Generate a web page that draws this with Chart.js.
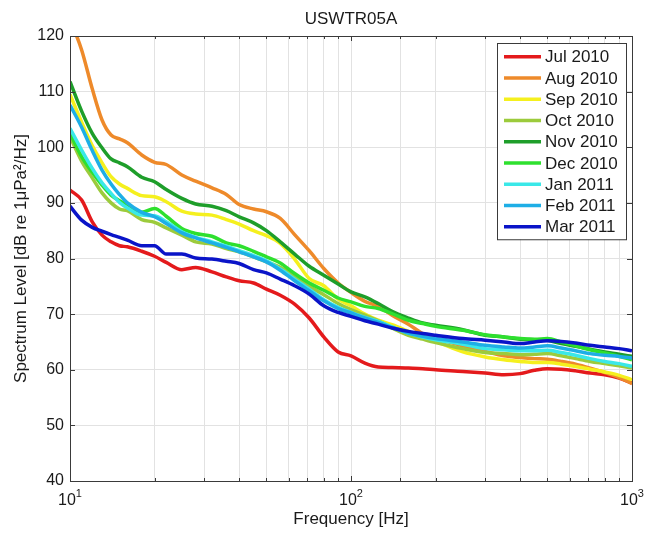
<!DOCTYPE html>
<html>
<head>
<meta charset="utf-8">
<title>USWTR05A</title>
<script src="https://cdn.jsdelivr.net/npm/chart.js@4.4.1/dist/chart.umd.min.js"></script>
<style>
    body { margin: 0; background: #fff; }
    canvas { display: block; }
</style>
</head>
<body>
<canvas id="spectrumChart" width="647" height="534"></canvas>
<script>
// Частоты (Гц), общие для всех месяцев
const freqs = [10, 11, 12, 13, 14, 15, 16, 18, 20, 22, 25, 28, 32, 36, 40, 45, 50, 56, 63, 71,
    80, 90, 100, 112, 125, 140, 160, 180, 200, 250, 300, 350, 400, 450, 500, 560, 630, 710, 800, 900, 1000];

const jul2010 = [92.3, 90.5, 86.6, 84.2, 83.0, 82.3, 82.1, 81.3, 80.4, 79.3, 78.0, 78.4, 77.6, 76.7, 76.0, 75.6, 74.5, 73.4, 71.8, 69.3,
    65.9, 63.2, 62.5, 61.2, 60.5, 60.4, 60.3, 60.2, 60.0, 59.7, 59.4, 59.1, 59.3, 59.9, 60.2, 60.1, 59.8, 59.4, 59.1, 58.5, 57.6];
const aug2010 = [123, 117.5, 110.5, 104.9, 102.2, 101.5, 100.8, 98.6, 97.3, 96.9, 95.0, 93.9, 92.7, 91.5, 89.7, 88.9, 88.4, 87.2, 84.3, 81.4,
    78.2, 75.6, 73.9, 72.3, 71.4, 69.8, 68.2, 66.5, 65.7, 64.3, 63.3, 62.5, 62.2, 62.0, 61.9, 61.5, 61.0, 60.3, 59.5, 58.6, 57.5];
const sep2010 = [109.5, 104.5, 100.3, 97.2, 94.7, 93.4, 92.6, 91.3, 91.1, 90.2, 88.5, 88.0, 87.8, 87.0, 86.2, 85.0, 84.1, 82.7, 79.9, 76.4,
    75.1, 72.7, 71.5, 70.0, 68.9, 68.1, 66.9, 65.8, 65.1, 63.2, 62.3, 61.8, 61.5, 61.3, 61.3, 61.0, 60.6, 60.1, 59.6, 59.0, 58.2];
const oct2010 = [101.9, 97.5, 94.5, 91.8, 90.0, 88.9, 88.6, 87.0, 86.5, 85.5, 84.2, 83.0, 82.6, 81.8, 81.2, 80.3, 79.4, 78.4, 76.8, 75.0,
    73.5, 71.9, 70.8, 69.8, 68.8, 67.5, 66.2, 65.5, 64.9, 63.8, 63.1, 62.9, 62.7, 62.8, 62.9, 62.5, 62.0, 61.5, 61.1, 60.7, 60.3];
const nov2010 = [111.8, 106.5, 102.5, 99.9, 97.9, 97.2, 96.5, 94.6, 93.8, 92.4, 90.8, 89.8, 89.4, 88.6, 87.5, 86.4, 85.0, 83.0, 80.8, 78.6,
    77.0, 75.4, 74.0, 73.1, 71.9, 70.5, 69.3, 68.4, 68.0, 67.2, 66.2, 65.9, 65.5, 65.4, 65.3, 64.7, 64.2, 63.7, 63.2, 62.8, 62.4];
const dec2010 = [102.5, 98.3, 95.5, 93.2, 91.4, 90.4, 89.7, 88.3, 89.0, 87.6, 85.4, 84.5, 84.0, 82.8, 82.3, 81.3, 80.3, 79.2, 77.3, 75.6,
    74.3, 72.9, 72.2, 71.4, 71.0, 70.1, 68.9, 68.3, 67.8, 67.1, 66.3, 65.9, 65.6, 65.5, 65.6, 65.0, 64.3, 63.6, 63.0, 62.4, 61.8];
const jan2011 = [103.4, 99.5, 96.2, 93.6, 91.7, 90.1, 89.1, 87.8, 87.7, 86.6, 84.8, 83.8, 83.0, 82.2, 81.4, 80.5, 79.6, 78.1, 76.3, 74.5,
    72.6, 71.2, 70.3, 69.4, 68.7, 67.7, 66.6, 65.9, 65.4, 64.6, 63.8, 63.6, 63.4, 63.4, 63.5, 63.1, 62.6, 62.0, 61.5, 61.1, 60.6];
const feb2011 = [107.6, 103.6, 99.4, 95.9, 93.4, 91.5, 90.0, 88.3, 87.5, 86.3, 84.6, 83.7, 82.8, 82.0, 81.2, 80.3, 79.4, 77.9, 76.0, 74.2,
    72.4, 71.0, 70.2, 69.3, 68.5, 67.6, 66.6, 66.0, 65.6, 65.0, 64.4, 64.1, 63.9, 64.1, 64.3, 63.9, 63.4, 62.9, 62.6, 62.4, 62.1];
const mar2011 = [89.4, 86.9, 85.6, 84.9, 84.3, 83.8, 83.3, 82.3, 82.3, 80.8, 80.8, 80.1, 79.9, 79.5, 79.1, 78.0, 77.4, 76.3, 75.1, 73.6,
    71.5, 70.3, 69.6, 68.8, 68.2, 67.5, 66.9, 66.5, 66.2, 65.6, 65.3, 65.0, 64.7, 65.0, 65.2, 65.1, 64.8, 64.4, 64.1, 63.8, 63.4];

const seriesLabels = ['Jul 2010', 'Aug 2010', 'Sep 2010', 'Oct 2010', 'Nov 2010', 'Dec 2010', 'Jan 2011', 'Feb 2011', 'Mar 2011'];
const seriesValues = [jul2010, aug2010, sep2010, oct2010, nov2010, dec2010, jan2011, feb2011, mar2011];
const seriesColors = ['#e41a1c', '#ee8a2a', '#f5f01e', '#9ccb3c', '#1e9e2a', '#2ee02e', '#3ae8e8', '#1eaee6', '#0a14c8'];

// Подписи осей
const decadeTicks = [10, 100, 1000];
const yMin = 40, yMax = 120, yStep = 10;

const FONT = "'Liberation Sans', Arial, Helvetica, sans-serif";
const TEXT_COLOR = '#1a1a1a';

// Рамка осей и засечки внутрь, как в MATLAB
const axesBox = {
    id: 'axesBox',
    afterDraw(chart) {
        const { ctx, chartArea: a } = chart;
        const xs = chart.scales.x, ys = chart.scales.y;
        ctx.save();
        ctx.strokeStyle = '#3a3a3a';
        ctx.lineWidth = 1;
        ctx.beginPath();
        xs.ticks.forEach(t => {
            const px = Math.round(xs.getPixelForValue(t.value)) + 0.5;
            const len = decadeTicks.includes(t.value) ? 5 : 3;
            ctx.moveTo(px, a.bottom); ctx.lineTo(px, a.bottom - len);
            ctx.moveTo(px, a.top); ctx.lineTo(px, a.top + len);
        });
        ys.ticks.forEach(t => {
            const py = Math.round(ys.getPixelForValue(t.value)) + 0.5;
            ctx.moveTo(a.left, py); ctx.lineTo(a.left + 5, py);
            ctx.moveTo(a.right, py); ctx.lineTo(a.right - 5, py);
        });
        ctx.stroke();
        ctx.strokeRect(Math.round(a.left) + 0.5, Math.round(a.top) + 0.5,
            Math.round(a.right - a.left), Math.round(a.bottom - a.top));

        // Подписи 10^n под осью X
        ctx.fillStyle = TEXT_COLOR;
        ctx.textBaseline = 'alphabetic';
        ctx.textAlign = 'left';
        decadeTicks.forEach(v => {
            const px = xs.getPixelForValue(v);
            const exp = String(Math.round(Math.log10(v)));
            ctx.font = '16px ' + FONT;
            const bw = ctx.measureText('10').width;
            ctx.font = '11px ' + FONT;
            const sw = ctx.measureText(exp).width;
            const left = px - (bw + sw) / 2;
            ctx.font = '16px ' + FONT;
            ctx.fillText('10', left, a.bottom + 24);
            ctx.font = '11px ' + FONT;
            ctx.fillText(exp, left + bw, a.bottom + 16);
        });
        ctx.restore();
    }
};

// Легенда в правом верхнем углу области графика
const boxLegend = {
    id: 'boxLegend',
    afterDraw(chart) {
        const { ctx, chartArea: a } = chart;
        const w = 129, rowH = 21.25;
        const h = rowH * seriesLabels.length + 5;
        const x0 = Math.round(a.right - 6 - w), y0 = Math.round(a.top + 7);
        ctx.save();
        ctx.fillStyle = '#ffffff';
        ctx.fillRect(x0, y0, w, h);
        ctx.strokeStyle = '#3a3a3a';
        ctx.lineWidth = 1;
        ctx.strokeRect(x0 + 0.5, y0 + 0.5, w, h);
        ctx.font = '17px ' + FONT;
        ctx.textBaseline = 'middle';
        ctx.textAlign = 'left';
        seriesLabels.forEach((label, i) => {
            const cy = y0 + 3 + rowH * (i + 0.5);
            ctx.strokeStyle = seriesColors[i];
            ctx.lineWidth = 3.5;
            ctx.beginPath();
            ctx.moveTo(x0 + 7, cy);
            ctx.lineTo(x0 + 44, cy);
            ctx.stroke();
            ctx.fillStyle = TEXT_COLOR;
            ctx.fillText(label, x0 + 48, cy + 1);
        });
        ctx.restore();
    }
};

const datasets = seriesLabels.map((label, i) => ({
    label: label,
    data: freqs.map((f, j) => ({ x: f, y: seriesValues[i][j] })),
    borderColor: seriesColors[i],
    backgroundColor: seriesColors[i],
    borderWidth: 3.5,
    pointRadius: 0,
    fill: false,
    cubicInterpolationMode: 'monotone',
    clip: 0,
    order: seriesLabels.length - i
}));

const ctx = document.getElementById('spectrumChart').getContext('2d');
new Chart(ctx, {
    type: 'line',
    data: { datasets },
    plugins: [axesBox, boxLegend],
    options: {
        responsive: false,
        animation: false,
        devicePixelRatio: 1,
        layout: { padding: { left: 0, right: 15, top: 0, bottom: 0 } },
        plugins: {
            legend: { display: false },
            tooltip: { enabled: false },
            title: {
                display: true,
                text: 'USWTR05A',
                fullSize: false,
                color: TEXT_COLOR,
                font: { family: FONT, size: 17, weight: 'normal' },
                padding: { top: 9, bottom: 6.6 }
            }
        },
        scales: {
            x: {
                type: 'logarithmic',
                min: 10,
                max: 1000,
                grid: { color: '#e2e2e2', lineWidth: 1, drawTicks: false },
                border: { display: false },
                ticks: { display: false, autoSkip: false },
                title: {
                    display: true,
                    text: 'Frequency [Hz]',
                    color: TEXT_COLOR,
                    font: { family: FONT, size: 17 },
                    padding: { top: 0, bottom: 4 }
                },
                afterFit(scale) { scale.height = 53; }
            },
            y: {
                type: 'linear',
                min: yMin,
                max: yMax,
                grid: { color: '#e2e2e2', lineWidth: 1, drawTicks: false },
                border: { display: false },
                ticks: {
                    stepSize: yStep,
                    padding: 6,
                    color: TEXT_COLOR,
                    font: { family: FONT, size: 16 }
                },
                title: {
                    display: true,
                    text: 'Spectrum Level [dB re 1\u03bcPa\u00b2/Hz]',
                    color: TEXT_COLOR,
                    font: { family: FONT, size: 17 },
                    padding: { top: 11, bottom: 0 }
                },
                afterFit(scale) { scale.width = 70; }
            }
        }
    }
});
</script>
</body>
</html>
